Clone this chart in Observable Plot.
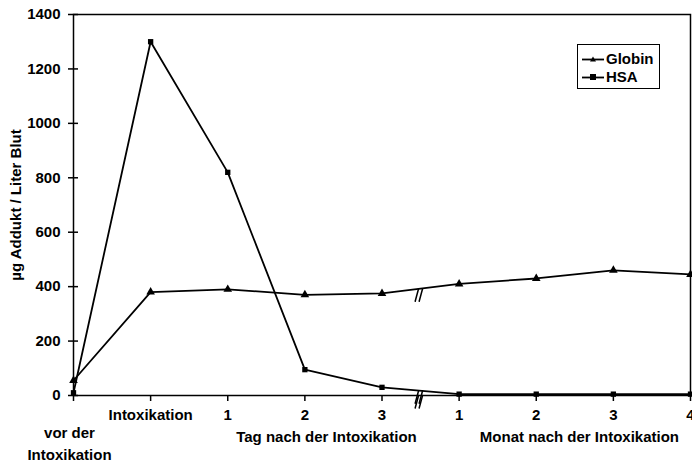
<!DOCTYPE html>
<html>
<head>
<meta charset="utf-8">
<script src="https://cdn.jsdelivr.net/npm/d3@7"></script>
<script src="https://cdn.jsdelivr.net/npm/@observablehq/plot@0.6"></script>
<style>
  body { margin: 0; background: #fff; }
  #wrap { position: relative; width: 692px; height: 465px; overflow: hidden; }
  #legend { position: absolute; left: 577px; top: 44px; width: 81px; height: 43px; border: 1.5px solid #000;
            font: bold 15px "Liberation Sans", Arial, sans-serif; }
  #legend .row { position: absolute; left: 4px; height: 17px; display: flex; align-items: center; }
  #legend svg { margin-right: 2px; }
</style>
</head>
<body>
<div id="wrap"></div>
<script>
// x categories (index positions 0..8)
const xIndex = [0, 1, 2, 3, 4, 5, 6, 7, 8];
const xTickLabels = ["", "Intoxikation", "1", "2", "3", "1", "2", "3", "4"];
const globin = [55, 380, 390, 370, 375, 410, 430, 460, 445];
const hsa = [10, 1300, 820, 95, 30, 5, 5, 5, 5];
const yTicks = [0, 200, 400, 600, 800, 1000, 1200, 1400];
const groupLabels = [
  {x: 3.28, text: "Tag nach der Intoxikation"},
  {x: 6.56, text: "Monat nach der Intoxikation"}
];
const beforeLabel = [{x: 0, text: "vor der\nIntoxikation"}];
const breakAt = 4.5;

const FONT = '"Liberation Sans", Arial, sans-serif';
const rowsG = xIndex.map((x, i) => ({x, y: globin[i]}));
const rowsH = xIndex.map((x, i) => ({x, y: hsa[i]}));
const breaks = [
  {x: breakAt, y: 0},
  {x: breakAt, y: (globin[4] + globin[5]) / 2},
  {x: breakAt, y: (hsa[4] + hsa[5]) / 2}
];
const slash = {draw(context, l) { context.moveTo(0, l / 2); context.lineTo(0, -l / 2); }};

const chart = Plot.plot({
  width: 692,
  height: 465,
  marginLeft: 73,
  marginRight: 2,
  marginTop: 14,
  marginBottom: 70,
  style: {fontFamily: FONT, fontSize: "15px", fontWeight: "bold", color: "#000", background: "#fff", overflow: "visible"},
  x: {domain: [0, 8]},
  y: {domain: [0, 1400]},
  marks: [
    Plot.frame({stroke: "#000", strokeWidth: 1.5}),
    Plot.axisY(yTicks, {text: null, label: null, tickSize: 10, dx: 5, strokeWidth: 1.5}),
    Plot.axisY(yTicks, {tickSize: 0, tickPadding: 13, label: null, tickFormat: d => String(d), fontSize: 15, fontWeight: "bold"}),
    Plot.axisX(xIndex, {text: null, label: null, tickSize: 6, strokeWidth: 1.5}),
    Plot.axisX(xIndex, {tickSize: 0, tickPadding: 14, tickFormat: i => xTickLabels[i], label: null, fontSize: 15, fontWeight: "bold"}),
    Plot.text(groupLabels, {x: "x", text: "text", frameAnchor: "bottom", dy: 46, fontSize: 15, fontWeight: "bold"}),
    Plot.text(beforeLabel, {x: "x", text: "text", frameAnchor: "bottom", lineAnchor: "top", dx: -4, dy: 27, lineHeight: 1.45, fontSize: 15, fontWeight: "bold"}),
    Plot.text(["µg Addukt / Liter Blut"], {frameAnchor: "left", textAnchor: "middle", dx: -57, dy: 0, rotate: -90, fontSize: 15, fontWeight: "bold"}),
    Plot.line(rowsH, {x: "x", y: "y", stroke: "#000", strokeWidth: 1.8}),
    Plot.line(rowsG, {x: "x", y: "y", stroke: "#000", strokeWidth: 1.8}),
    Plot.dot(rowsH, {x: "x", y: "y", symbol: "square", r: 3, fill: "#000"}),
    Plot.dot(rowsG, {x: "x", y: "y", symbol: "triangle", r: 3.2, fill: "#000"}),
    Plot.vector(breaks, {x: "x", y: "y", length: 13, rotate: 15, anchor: "middle", shape: slash, dx: -2, stroke: "#000", strokeWidth: 1.5}),
    Plot.vector(breaks, {x: "x", y: "y", length: 13, rotate: 15, anchor: "middle", shape: slash, dx: 2, stroke: "#000", strokeWidth: 1.5})
  ]
});

const wrap = document.getElementById("wrap");
wrap.appendChild(chart);

// legend inside plot area
const legend = document.createElement("div");
legend.id = "legend";
const items = [{name: "Globin", sym: "tri", top: 5}, {name: "HSA", sym: "sq", top: 23}];
for (const it of items) {
  const row = document.createElement("div");
  row.className = "row";
  row.style.top = it.top + "px";
  const marker = it.sym === "tri"
    ? '<polygon points="11,3.5 14,8.5 8,8.5" fill="#000"/>'
    : '<rect x="8" y="3" width="6" height="6" fill="#000"/>';
  row.innerHTML = '<svg width="22" height="12"><line x1="0" y1="6.5" x2="22" y2="6.5" stroke="#000" stroke-width="1.8"/>' + marker + '</svg><span>' + it.name + '</span>';
  legend.appendChild(row);
}
wrap.appendChild(legend);
</script>
</body>
</html>
